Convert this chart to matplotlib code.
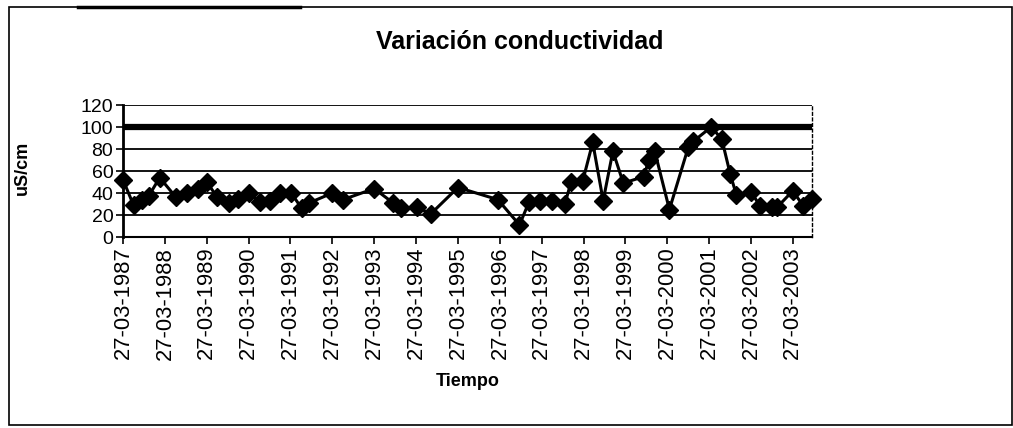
import matplotlib
matplotlib.use("Agg")
import matplotlib.pyplot as plt
import matplotlib.dates as mdates
from matplotlib.patches import Rectangle
from matplotlib.lines import Line2D
from datetime import date

plt.rcParams['font.family'] = ['Liberation Sans', 'DejaVu Sans']

sample_dates = [
    "1987-03-27", "1987-06-27", "1987-09-05", "1987-11-05", "1988-02-10",
    "1988-07-02", "1988-10-03", "1989-01-13", "1989-03-27", "1989-06-27",
    "1989-10-03", "1989-12-27", "1990-03-27", "1990-07-03", "1990-09-27",
    "1990-12-27", "1991-04-03", "1991-07-03", "1991-09-06", "1992-03-27",
    "1992-06-27", "1993-03-27", "1993-09-07", "1993-11-19", "1994-04-07",
    "1994-08-02", "1995-03-27", "1996-03-09", "1996-09-14", "1996-12-07",
    "1997-03-09", "1997-06-27", "1997-10-15", "1997-12-08", "1998-03-20",
    "1998-06-15", "1998-09-14", "1998-12-08", "1999-03-09", "1999-09-07",
    "1999-10-15", "1999-12-08", "2000-04-14", "2000-09-27", "2000-11-09",
    "2001-04-14", "2001-07-15", "2001-09-27", "2001-11-20", "2002-03-27",
    "2002-06-15", "2002-09-27", "2002-11-09", "2003-03-27", "2003-06-27",
    "2003-09-07",
]
conductividad = [
    52, 29, 34, 37, 54,
    36, 40, 44, 50, 36,
    31, 35, 40, 32, 33,
    40, 40, 26, 31, 40,
    34, 44, 31, 26, 27,
    21, 45, 34, 11, 32,
    33, 33, 30, 50, 51,
    86, 33, 78, 49, 55,
    70, 78, 25, 82, 87,
    100, 89, 57, 38, 41,
    28, 27, 27, 42, 28,
    35,
]
tick_labels = ["27-03-%d" % y for y in range(1987, 2004)]
y_ticks = [0, 20, 40, 60, 80, 100, 120]

W, H = 1013, 428
fig = plt.figure(figsize=(W / 100, H / 100), dpi=100)

def fx(px):
    return px / W

def fy(py):
    return 1 - py / H

# outer chart-area border
fig.add_artist(Rectangle((fx(9), fy(425)), fx(1012) - fx(9), fy(7) - fy(425),
                         transform=fig.transFigure, fill=False,
                         edgecolor='black', linewidth=1.2))
fig.add_artist(Line2D([fx(78), fx(300)], [fy(7), fy(7)], transform=fig.transFigure,
                      color='black', linewidth=2.5))

ax = fig.add_axes([fx(123), fy(237), fx(812) - fx(123), fy(105) - fy(237)])

x = [mdates.datestr2num(d) for d in sample_dates]
tick_pos = [mdates.date2num(date(int(l[-4:]), 3, 27)) for l in tick_labels]

# gridlines
for v in y_ticks[1:]:
    lw = 4.5 if v == 100 else 1.3
    ax.axhline(v, color='black', linewidth=lw, zorder=1)

ax.plot(x, conductividad, color='black', linewidth=2.2, marker='D',
        markersize=9, markerfacecolor='black', markeredgecolor='black',
        zorder=3, clip_on=False)

ax.set_ylim(0, 120)
ax.set_xlim(x[0], mdates.datestr2num("2003-09-10"))
ax.set_yticks(y_ticks)
ax.set_yticklabels([str(v) for v in y_ticks], fontsize=14)
ax.set_xticks(tick_pos)
ax.set_xticklabels(tick_labels, rotation=90, fontsize=15.8)

ax.spines['top'].set_visible(False)
ax.spines['right'].set_linestyle((0, (2, 2)))
ax.spines['right'].set_linewidth(1.0)
ax.spines['left'].set_linewidth(2.0)
ax.spines['bottom'].set_linewidth(1.5)
ax.tick_params(axis='both', direction='out', length=5, width=1.2, colors='black', pad=2)

fig.text(fx(520), fy(42), "Variación conductividad", fontsize=18, fontweight='bold',
         ha='center', va='center')
fig.text(fx(22), fy(168), "uS/cm", fontsize=13, fontweight='bold',
         ha='center', va='center', rotation=90)
ax.set_xlabel("Tiempo", fontsize=13, fontweight='bold', labelpad=10)

fig.savefig("out.png", dpi=100)
